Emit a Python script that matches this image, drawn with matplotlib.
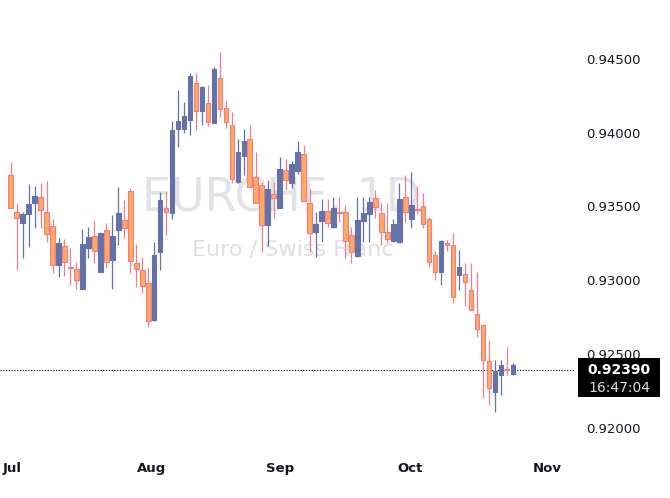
import matplotlib
matplotlib.use("Agg")
import matplotlib.pyplot as plt
from matplotlib.patches import Rectangle

opens = [0.93714,0.93463,0.93391,0.93451,0.93526,0.93562,0.93461,0.93366,0.93101,0.93230,
         0.93092,0.93074,0.92943,0.93221,0.93298,0.93058,0.93339,0.93135,0.93339,0.93406,
         0.93603,0.93115,0.93067,0.92979,0.92732,0.93194,0.93488,0.93458,0.94027,0.94027,
         0.94086,0.94335,0.94150,0.94200,0.94068,0.94369,0.94166,0.94050,0.93668,0.93844,
         0.93956,0.93698,0.93644,0.93372,0.93583,0.93492,0.93745,0.93657,0.93743,0.93854,
         0.93522,0.93329,0.93404,0.93469,0.93363,0.93460,0.93461,0.93305,0.93166,0.93404,
         0.93447,0.93556,0.93454,0.93327,0.93266,0.93257,0.93562,0.93415,0.93482,0.93503,
         0.93415,0.93171,0.93058,0.93250,0.93239,0.93038,0.93040,0.92932,0.92769,0.92694,
         0.92452,0.92244,0.92358,0.92395,0.92365]
highs = [0.93800,0.93524,0.93466,0.93652,0.93639,0.93659,0.93673,0.93415,0.93286,0.93280,
         0.93217,0.93122,0.93347,0.93361,0.93408,0.93327,0.93388,0.93442,0.93632,0.93544,
         0.93625,0.93246,0.93156,0.93083,0.93259,0.93598,0.93607,0.94080,0.94290,0.94210,
         0.94403,0.94407,0.94319,0.94324,0.94446,0.94545,0.94222,0.94141,0.93958,0.94025,
         0.94053,0.93867,0.93668,0.93680,0.93664,0.93838,0.93822,0.93810,0.93946,0.93920,
         0.93627,0.93465,0.93549,0.93549,0.93566,0.93562,0.93510,0.93359,0.93566,0.93562,
         0.93562,0.93612,0.93522,0.93522,0.93415,0.93657,0.93714,0.93736,0.93641,0.93589,
         0.93430,0.93200,0.93273,0.93273,0.93318,0.93205,0.93115,0.93115,0.93058,0.92694,
         0.92595,0.92459,0.92459,0.92550,0.92437]
lows = [0.93490,0.93070,0.93154,0.93227,0.93356,0.93356,0.93261,0.93051,0.93024,0.93031,
        0.92970,0.92943,0.92943,0.93153,0.93115,0.93058,0.93085,0.92943,0.93241,0.93288,
        0.93047,0.92956,0.92916,0.92685,0.92726,0.93069,0.93307,0.93417,0.93905,0.93996,
        0.93987,0.94019,0.94053,0.94048,0.94063,0.94109,0.94030,0.93657,0.93657,0.93714,
        0.93623,0.93522,0.93194,0.93234,0.93420,0.93488,0.93612,0.93627,0.93720,0.93535,
        0.93194,0.93156,0.93261,0.93359,0.93352,0.93397,0.93149,0.93119,0.93159,0.93261,
        0.93261,0.93420,0.93239,0.93250,0.93259,0.93250,0.93397,0.93352,0.93450,0.93352,
        0.93088,0.93002,0.92968,0.93200,0.92848,0.92934,0.92825,0.92796,0.92617,0.92200,
        0.92154,0.92109,0.92222,0.92358,0.92358]
closes = [0.93490,0.93422,0.93450,0.93517,0.93571,0.93474,0.93311,0.93101,0.93250,0.93122,
          0.93085,0.93000,0.93244,0.93291,0.93196,0.93318,0.93122,0.93298,0.93456,0.93352,
          0.93128,0.93074,0.92959,0.92722,0.93169,0.93544,0.93461,0.94019,0.94080,0.94114,
          0.94385,0.94150,0.94310,0.94071,0.94432,0.94159,0.94071,0.93684,0.93867,0.93944,
          0.93630,0.93522,0.93372,0.93619,0.93556,0.93754,0.93680,0.93788,0.93867,0.93535,
          0.93318,0.93381,0.93469,0.93386,0.93492,0.93458,0.93264,0.93189,0.93408,0.93458,
          0.93530,0.93495,0.93329,0.93278,0.93381,0.93551,0.93460,0.93510,0.93475,0.93381,
          0.93122,0.93054,0.93266,0.93237,0.92884,0.93088,0.92986,0.92796,0.92667,0.92459,
          0.92267,0.92387,0.92425,0.92390,0.92425]

month_labels = ["Jul", "Aug", "Sep", "Oct", "Nov"]
month_pos = [0.2, 23.6, 45.0, 66.8, 89.7]
price_ticks = [0.920, 0.925, 0.930, 0.935, 0.940, 0.945]
last_price = 0.92390
last_label = "0.92390"
countdown = "16:47:04"

BLUE = "#6372A8"
ORANGE = "#FFAA5E"
PINK = "#F07C8C"

fig = plt.figure(figsize=(6.70, 4.98), dpi=100)
ax = fig.add_axes([0, 1 - 445/498, 575/670, 445/498])
for s in ax.spines.values():
    s.set_visible(False)

w = 0.78
for i, (o, h, l, c) in enumerate(zip(opens, highs, lows, closes)):
    up = c >= o
    col = BLUE if up else PINK
    face = BLUE if up else ORANGE
    ax.vlines(i, l, h, color=col, lw=0.9, zorder=2)
    lo, hi = min(o, c), max(o, c)
    hgt = max(hi - lo, 0.00003)
    ax.add_patch(Rectangle((i - w/2, lo), w, hgt, facecolor=face,
                           edgecolor=col, lw=0.8, zorder=3))

ax.set_xlim(-1.79, 94.4)
ax.set_ylim(0.91883, 0.94900)
ax.axhline(last_price, color="black", lw=0.8, ls=(0, (1, 1.5)), zorder=1)

ax.yaxis.tick_right()
ax.set_yticks(price_ticks)
ax.set_yticklabels([f"{t:.5f}" for t in price_ticks], fontsize=9.5, color="#131722")
ax.tick_params(axis="y", length=0, pad=8)
ax.set_xticks(month_pos)
ax.set_xticklabels(month_labels, fontsize=9.5, color="#131722", fontweight="bold")
ax.tick_params(axis="x", length=0, pad=12)

ax.text(0.49, 0.555, "EURCHF, 1D", transform=ax.transAxes, ha="center", va="center",
        fontsize=33, color="#D6D8DD", alpha=0.7, zorder=0)
ax.text(0.51, 0.44, "Euro / Swiss Franc", transform=ax.transAxes, ha="center", va="center",
        fontsize=16, color="#D6D8DD", alpha=0.8, zorder=0)

fig.patches.append(Rectangle((578/670, 1 - 397/498), 82/670, 39/498,
                             transform=fig.transFigure, facecolor="black", zorder=5))
fig.text(619/670, 1 - 370/498, last_label, ha="center", va="center", color="white",
         fontsize=10, fontweight="bold", zorder=6)
fig.text(619/670, 1 - 388/498, countdown, ha="center", va="center", color="#DDDDDD",
         fontsize=10, zorder=6)

fig.savefig("out.png", dpi=100)
